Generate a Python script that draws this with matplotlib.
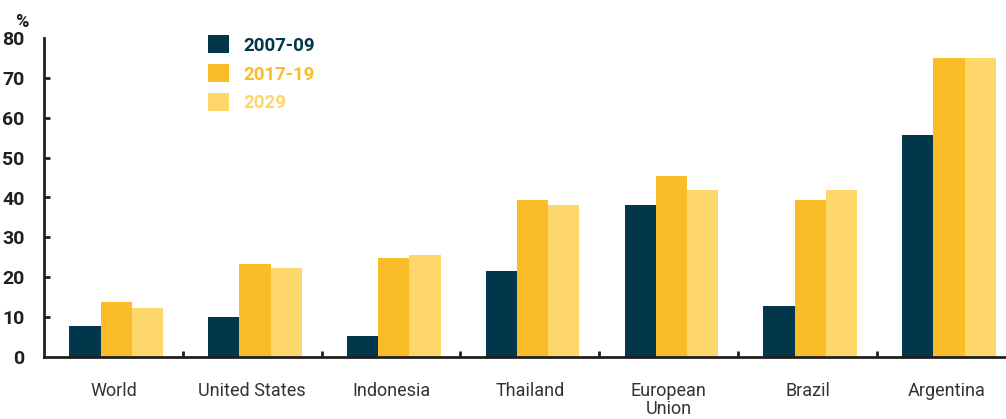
import matplotlib.pyplot as plt
import numpy as np

plt.rcParams['font.family'] = ['Roboto', 'DejaVu Sans']

countries = ['World', 'United States', 'Indonesia', 'Thailand', 'European\nUnion', 'Brazil', 'Argentina']
series = ['2007-09', '2017-19', '2029']
v_2007_09 = [7.8, 10.0, 5.3, 21.5, 38.1, 12.8, 55.6]
v_2017_19 = [13.8, 23.3, 24.8, 39.3, 45.4, 39.3, 74.9]
v_2029 = [12.3, 22.3, 25.6, 38.1, 41.9, 41.9, 74.9]
colors = ['#02364B', '#FBBC2A', '#FDD76A']

fig = plt.figure(figsize=(10.06, 4.19), dpi=100)
ax = fig.add_axes([44/1006, 1-357/419, 962/1006, 319/419])

x = np.arange(len(countries))
w = 0.225
bars = []
for i, vals in enumerate([v_2007_09, v_2017_19, v_2029]):
    b = ax.bar(x + (i-1)*w + 0.02, vals, width=w, color=colors[i], label=series[i], zorder=2)
    bars.append(b)

ink = '#231F20'
ax.set_ylim(0, 80)
ax.set_xlim(-0.5, 6.43)
ax.set_yticks(range(0, 81, 10))
ax.set_yticklabels([str(v) for v in range(0, 81, 10)], fontsize=14, fontweight='bold', color=ink)
ax.tick_params(axis='y', direction='in', length=4, width=2, color=ink, pad=14)
for t in ax.yaxis.get_major_ticks():
    if t.get_loc() in (0, 80):
        t.tick1line.set_visible(False)

ax.set_xticks(x)
ax.set_xticklabels(countries, fontsize=13, color='#333333', linespacing=1.0)
ax.tick_params(axis='x', which='major', length=0, pad=18)
ax.set_xticks(np.arange(0.5, 6, 1), minor=True)
ax.tick_params(axis='x', which='minor', direction='in', length=4, width=2, color=ink)

for s in ['top', 'right']:
    ax.spines[s].set_visible(False)
for s in ['left', 'bottom']:
    ax.spines[s].set_color(ink)
    ax.spines[s].set_linewidth(2)

fig.text(22/1006, 1-22/419, '%', fontsize=13, fontweight='bold', color=ink, ha='center', va='center')

leg = ax.legend(handles=bars, labels=series, loc='upper left',
                bbox_to_anchor=(199/1006, 1-26/419), bbox_transform=fig.transFigure,
                frameon=False, borderpad=0, handlelength=1.1, handleheight=1.1,
                handletextpad=0.75, labelspacing=0.5,
                prop={'size': 13.5, 'weight': 'bold'})
for txt, c in zip(leg.get_texts(), colors):
    txt.set_color(c)

fig.savefig('out.png', dpi=100)
